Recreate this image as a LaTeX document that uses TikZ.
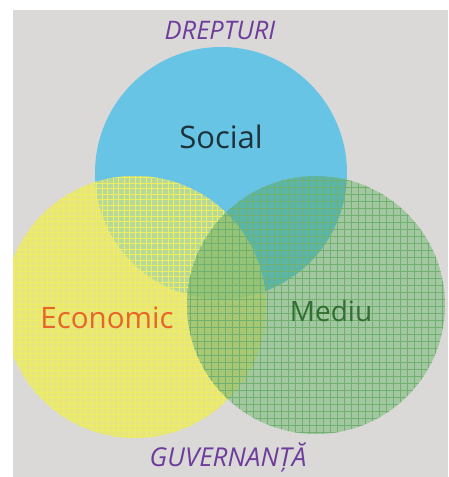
\documentclass[tikz,border=0pt]{standalone}
\usepackage{fontspec}
\setmainfont{Open Sans}
\definecolor{bgc}{RGB}{218,217,216}
\definecolor{bluec}{RGB}{103,196,229}
\definecolor{yelc}{RGB}{230,230,125}
\definecolor{grnc}{RGB}{163,199,160}
\definecolor{byc}{RGB}{182,216,152}
\definecolor{bgcol}{RGB}{92,182,168}
\definecolor{ygc}{RGB}{168,200,115}
\definecolor{bygc}{RGB}{150,196,118}
\definecolor{ylinec}{RGB}{238,238,96}
\definecolor{glinec}{RGB}{112,176,112}
\definecolor{purp}{RGB}{110,60,155}
\definecolor{orangec}{RGB}{232,100,40}
\definecolor{dgreen}{RGB}{50,110,50}
\definecolor{dtext}{RGB}{30,50,60}
\tikzset{
  lbl/.style={inner sep=0pt, anchor=center},
  ygrid/.style={line width=0.6pt, ylinec},
  ggrid/.style={line width=0.7pt, glinec}
}
\begin{document}
\begin{tikzpicture}[x=1pt,y=-1pt]
\useasboundingbox (0,0) rectangle (448,477);
\fill[white] (0,0) rectangle (448,477);
\fill[bgc] (13,10) rectangle (448,477);
\def\Bc{(221,173) circle (126)}
\def\Yc{(135,307) circle (131)}
\def\Gc{(316,305) circle (129)}
\begin{scope}
\clip (13,10) rectangle (448,477);
\fill[bluec] \Bc;
\fill[yelc] \Yc;
\fill[grnc] \Gc;
\begin{scope}\clip \Bc; \fill[byc] \Yc; \fill[bgcol] \Gc; \end{scope}
\begin{scope}\clip \Yc; \fill[ygc] \Gc; \end{scope}
\begin{scope}\clip \Bc; \clip \Yc; \fill[bygc] \Gc; \end{scope}
% yellow grid, only where not covered by green
\begin{scope}
\clip \Yc;
\begin{scope}[even odd rule]
\clip (0,0) rectangle (448,477) (316,305) circle (129);
\foreach \x in {3,8.5,...,270} \draw[ygrid] (\x,170) -- (\x,445);
\foreach \y in {172,177.5,...,445} \draw[ygrid] (0,\y) -- (270,\y);
\end{scope}
\end{scope}
% green grid
\begin{scope}
\clip \Gc;
\foreach \x in {183,190,...,450} \draw[ggrid] (\x,170) -- (\x,440);
\foreach \y in {173,180,...,440} \draw[ggrid] (180,\y) -- (450,\y);
\end{scope}
\end{scope}
\node[lbl, text=purp, font=\itshape\fontsize{25.5}{30}\selectfont] (dr) at (220,31) {DREPTURI};
\node[lbl, text=dtext, font=\fontsize{31}{36}\selectfont] (so) at (221,137) {Social};
\node[lbl, text=orangec, font=\fontsize{29.5}{34}\selectfont] (ec) at (107,318) {Economic};
\node[lbl, text=dgreen, font=\fontsize{28}{33}\selectfont] (me) at (331,311) {Mediu};
\node[lbl, text=purp, font=\itshape\fontsize{26}{30}\selectfont] (gu) at (228,457) {GUVERNANȚĂ};
\end{tikzpicture}
\end{document}
